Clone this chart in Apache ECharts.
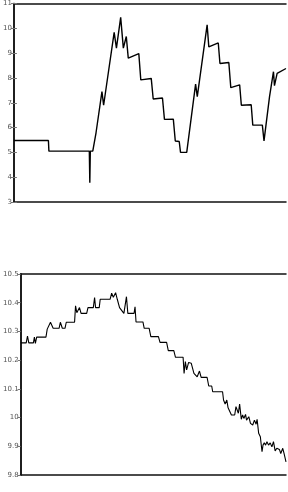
<!DOCTYPE html>
<html>
<head>
<meta charset="utf-8">
<script src="https://cdn.jsdelivr.net/npm/echarts@6/dist/echarts.min.js"></script>
<style>
  html, body { margin: 0; padding: 0; background: #fff; }
  #main { width: 288px; height: 492px; }
</style>
</head>
<body>
<div id="main"></div>
<script>
// top panel: sample time and value
var topTime = [0, 35, 35.5, 76.5, 77, 77.5, 80, 83.3, 89.3, 91, 101.7, 104, 108.3, 111, 114, 116,
  126.7, 128.7, 139.3, 141.3, 150.7, 152.7, 161.7, 163.7, 167.7, 169, 175.3, 184.3, 186, 196,
  197.7, 207.3, 209, 218, 220, 229, 230.7, 240.7, 242.3, 252, 253.7, 259.3, 263.3, 264.3, 267, 276];
var topValue = [5.48, 5.48, 5.05, 5.05, 3.78, 5.05, 5.05, 5.79, 7.45, 6.9, 9.84, 9.2, 10.44, 9.2, 9.67, 8.8,
  8.98, 7.92, 7.98, 7.15, 7.19, 6.33, 6.34, 5.46, 5.44, 5.0, 5.0, 7.75, 7.25, 10.14,
  9.25, 9.41, 8.58, 8.62, 7.61, 7.72, 6.9, 6.92, 6.1, 6.1, 5.46, 7.25, 8.25, 7.69, 8.18, 8.38];
var topTicks = [3, 4, 5, 6, 7, 8, 9, 10, 11];

// bottom panel
var botTime = [0.3, 5.7, 7, 8.3, 13, 14, 15, 16.3, 25.7, 27, 30.3, 33, 39, 40.3, 42.3, 45, 46.3,
  54.7, 55.7, 57, 59.7, 61.3, 67, 68.3, 73.7, 75, 76, 79.7, 80.7, 90.7, 92.3, 94, 96.3, 98, 100.3,
  102.3, 104.7, 107.3, 108.7, 115, 116, 117, 124, 125.3, 130.3, 132, 139.7, 141.3, 148, 149.7,
  155.3, 157, 164.7, 165.7, 167, 168.3, 170.3, 173, 175.7, 177.3, 179, 181.3, 183, 189, 190.7,
  193.7, 194.7, 204.7, 205.7, 207.3, 209, 210.3, 212.3, 213.7, 217, 218.3, 219.7, 220.7, 222,
  223.7, 225, 226.3, 228, 229, 231.3, 233, 235.3, 237, 238.7, 239.7, 241.3, 243, 244.7, 245.7,
  247, 248.3, 249.7, 251.3, 253, 254.7, 256.3, 258, 259.7, 262.3, 263.7, 265.7, 267, 269];
var botValue = [10.26, 10.26, 10.284, 10.26, 10.26, 10.28, 10.258, 10.28, 10.28, 10.308, 10.332,
  10.311, 10.311, 10.332, 10.311, 10.311, 10.332, 10.332, 10.389, 10.365, 10.383, 10.363, 10.363,
  10.383, 10.383, 10.418, 10.383, 10.383, 10.412, 10.412, 10.433, 10.419, 10.435, 10.412, 10.383,
  10.383, 10.363, 10.421, 10.363, 10.363, 10.386, 10.333, 10.333, 10.311, 10.311, 10.282, 10.282,
  10.262, 10.262, 10.233, 10.233, 10.21, 10.21, 10.154, 10.195, 10.166, 10.192, 10.189, 10.154,
  10.16, 10.142, 10.162, 10.14, 10.14, 10.11, 10.11, 10.09, 10.09, 10.061, 10.047, 10.061, 10.034,
  10.04, 10.009, 10.009, 10.038, 10.038, 10.015, 10.047, 9.994, 10.009, 9.997, 10.011, 9.991,
  10.003, 9.98, 9.974, 9.991, 9.977, 9.994, 9.945, 9.933, 9.881, 9.904, 9.912, 9.904, 9.916,
  9.904, 9.912, 9.898, 9.916, 9.884, 9.893, 9.889, 9.875, 9.893, 9.875, 9.846];
var botTicks = [9.8, 9.9, 10, 10.1, 10.2, 10.3, 10.4, 10.5];

function pairs(t, v) {
  return t.map(function (x, i) { return [x, v[i]]; });
}

var chart = echarts.init(document.getElementById('main'));

var labelStyle = { color: '#555', fontSize: 7, fontFamily: 'DejaVu Sans', margin: 2 };
var frame = { show: true, lineStyle: { color: '#111', width: 1.5 } };

function xAxes(idx, max) {
  return [
    { gridIndex: idx, type: 'value', min: 0, max: max, axisLine: frame, axisTick: { show: false },
      axisLabel: { show: false }, splitLine: { show: false } },
    { gridIndex: idx, type: 'value', position: 'top', min: 0, max: max, axisLine: frame,
      axisTick: { show: false }, axisLabel: { show: false }, splitLine: { show: false } }
  ];
}

function yAxes(idx, ticks, leftTicks) {
  var mn = ticks[0], mx = ticks[ticks.length - 1];
  var step = Math.round((ticks[1] - ticks[0]) * 10) / 10;
  return [
    { gridIndex: idx, type: 'value', min: mn, max: mx, interval: step, axisLine: frame,
      axisTick: { show: leftTicks, inside: true, length: 3, lineStyle: { color: '#777' } },
      axisLabel: labelStyle, splitLine: { show: false } },
    { gridIndex: idx, type: 'value', position: 'right', min: mn, max: mx, interval: step,
      axisLine: frame, axisTick: { show: true, inside: true, length: 3, lineStyle: { color: '#777' } },
      axisLabel: { show: false }, splitLine: { show: false } }
  ];
}

chart.setOption({
  animation: false,
  backgroundColor: '#fff',
  grid: [
    { left: 10, right: 2, top: 1, height: 201 },
    { left: 17, right: 2, top: 274, height: 201 }
  ],
  xAxis: xAxes(0, 276).concat(xAxes(1, 269)),
  yAxis: yAxes(0, topTicks, true).concat(yAxes(1, botTicks, false)),
  series: [
    { type: 'line', xAxisIndex: 0, yAxisIndex: 0, data: pairs(topTime, topValue),
      showSymbol: false, lineStyle: { color: '#000', width: 1.4 } },
    { type: 'line', xAxisIndex: 2, yAxisIndex: 2, data: pairs(botTime, botValue),
      showSymbol: false, lineStyle: { color: '#000', width: 1.1 } }
  ]
});
</script>
</body>
</html>
